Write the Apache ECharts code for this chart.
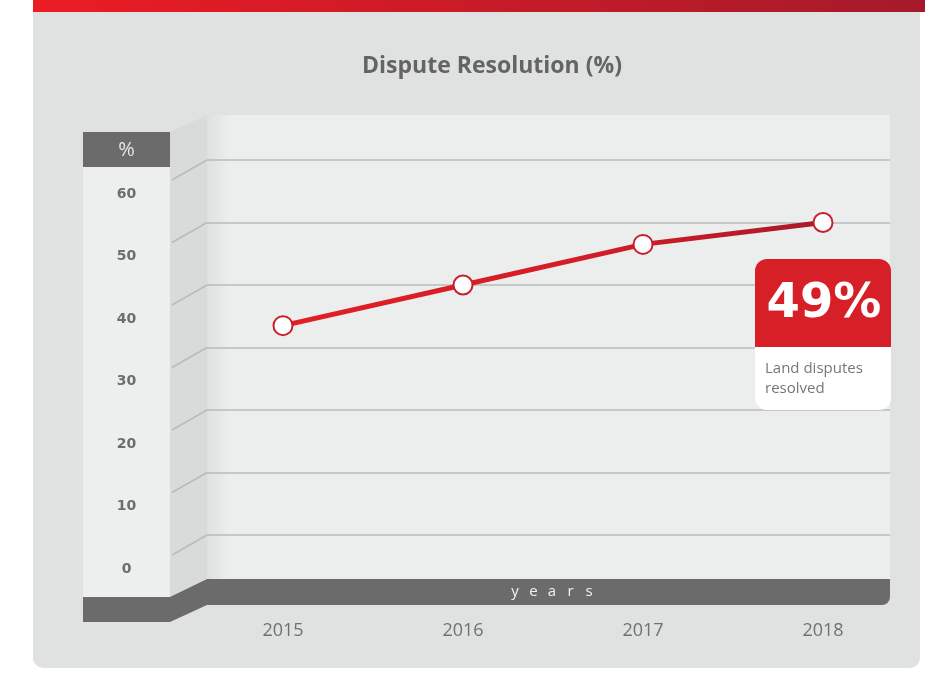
<!DOCTYPE html>
<html>
<head>
<meta charset="utf-8">
<script src="https://cdn.jsdelivr.net/npm/echarts@6/dist/echarts.min.js"></script>
<style>
    html, body { margin: 0; padding: 0; background: #fff; }
    #chart { width: 925px; height: 675px; }
</style>
</head>
<body>
<div id="chart"></div>
<script>
    // data
    const years = ['2015', '2016', '2017', '2018'];
    const resolved = [33.5, 40, 46.5, 50];
    const yMin = 0, yMax = 60, yStep = 10;
    const calloutValue = '49%';
    const calloutLabel = 'Land disputes\nresolved';
    const titleText = 'Dispute Resolution (%)';
    const axisUnit = '%';
    const axisName = 'years';

    const chart = echarts.init(document.getElementById('chart'), null, { renderer: 'canvas' });

    const grey = '#6b6b6b';
    const red = '#d71f27';

    // box geometry
    const wallL = 207, wallR = 890, wallT = 115, wallB = 579;
    const colL = 83, colR = 170, colT = 132, colB = 597;
    const plotTop = 160, plotH = 375;

    function decor(sideLines) {
        let g = [
            // panel + red header strip
            { type: 'rect', shape: { x: 33, y: 0, width: 887, height: 668, r: [0, 0, 10, 10] }, style: { fill: '#e0e2e2' }, z: -20 },
            { type: 'rect', shape: { x: 33, y: 0, width: 892, height: 12 }, z: -19,
              style: { fill: new echarts.graphic.LinearGradient(0, 0, 1, 0, [{ offset: 0, color: '#ec1c24' }, { offset: 1, color: '#a51a2b' }]) } },
            // back wall
            { type: 'rect', shape: { x: wallL, y: wallT, width: wallR - wallL, height: wallB - wallT }, style: { fill: '#eceeee' }, z: -18 },
            { type: 'rect', shape: { x: wallL, y: wallT, width: 22, height: wallB - wallT }, z: -17,
              style: { fill: new echarts.graphic.LinearGradient(0, 0, 1, 0, [{ offset: 0, color: 'rgba(0,0,0,0.06)' }, { offset: 1, color: 'rgba(0,0,0,0)' }]) } },
            // side wall
            { type: 'polygon', shape: { points: [[colR, colT], [wallL, wallT], [wallL, wallB], [colR, colB]] }, style: { fill: '#d9dbdb' }, z: -16 },
            // front column
            { type: 'rect', shape: { x: colL, y: colT, width: colR - colL, height: colB - colT }, style: { fill: '#edefef' }, z: -15 },
            { type: 'rect', shape: { x: colL, y: colT, width: colR - colL, height: 35 }, style: { fill: grey }, z: -14 },
            { type: 'text', x: (colL + colR) / 2, y: colT + 18, z: -13,
              style: { text: axisUnit, fill: '#e6e6e6', font: '20px "Open Sans"', align: 'center', verticalAlign: 'middle' } },
            // floor band
            { type: 'polygon', z: -12, style: { fill: grey },
              shape: { points: [[colL, colB], [colR, colB], [wallL, wallB], [wallR, wallB], [wallR, 597], [wallL, 605], [colR, 622], [colL, 622]] } },
            { type: 'rect', shape: { x: wallL, y: wallB, width: wallR - wallL, height: 26, r: [0, 0, 8, 0] }, style: { fill: grey }, z: -12 }
        ];
        // spaced letters of the axis name
        axisName.split('').forEach(function (ch, i) {
            g.push({ type: 'text', x: 515 + i * 18.5, y: 592, z: -11,
                style: { text: ch, fill: '#f2f2f2', font: '15px "Open Sans"', align: 'center', verticalAlign: 'middle' } });
        });
        sideLines.forEach(function (y) {
            g.push({ type: 'line', shape: { x1: colR + 2, y1: y + 20, x2: wallL, y2: y }, style: { stroke: '#b9bbbb', lineWidth: 1.5 }, z: -10 });
        });
        // callout
        g.push(
            { type: 'rect', shape: { x: 755, y: 259, width: 136, height: 88, r: [12, 12, 0, 0] }, style: { fill: red }, z: 100 },
            { type: 'rect', shape: { x: 755, y: 347, width: 136, height: 63, r: [0, 0, 12, 12] }, style: { fill: '#ffffff' }, z: 100 },
            { type: 'text', x: 824, y: 305, z: 101,
              style: { text: calloutValue, fill: '#fff', font: 'bold 48px "DejaVu Sans"', align: 'center', verticalAlign: 'middle' } },
            { type: 'text', x: 765, y: 379, z: 101,
              style: { text: calloutLabel, fill: '#777', font: '15px "Open Sans"', lineHeight: 20, align: 'left', verticalAlign: 'middle' } }
        );
        return g;
    }

    chart.setOption({
        backgroundColor: '#ffffff',
        animation: false,
        title: {
            text: titleText, left: 487, top: 50, textAlign: 'center',
            textStyle: { color: '#646464', fontSize: 23, fontWeight: 'bold', fontFamily: 'Open Sans' }
        },
        grid: [
            { left: wallL, right: 925 - wallR, top: plotTop, height: plotH },
            { left: 283, width: 540, top: plotTop, height: plotH },
            { left: (colL + colR) / 2, width: 1, top: plotTop + 34, height: plotH }
        ],
        xAxis: [
            { gridIndex: 0, type: 'value', show: false },
            { gridIndex: 1, type: 'category', data: years, boundaryGap: false,
              axisLine: { show: false }, axisTick: { show: false },
              axisLabel: { margin: 87, color: '#707070', fontSize: 18, fontFamily: 'Open Sans' } },
            { gridIndex: 2, type: 'value', show: false }
        ],
        yAxis: [
            { gridIndex: 0, type: 'value', min: yMin, max: yMax, interval: yStep,
              axisLine: { show: false }, axisTick: { show: false }, axisLabel: { show: false },
              splitLine: { lineStyle: { color: '#b9bbbb', width: 1.5 } } },
            { gridIndex: 1, type: 'value', min: yMin, max: yMax, interval: yStep, show: false },
            { gridIndex: 2, type: 'value', min: yMin, max: yMax, interval: yStep,
              axisLine: { show: false }, axisTick: { show: false }, splitLine: { show: false },
              axisLabel: { margin: 0, align: 'center', color: '#6d6d6d', fontSize: 14, fontWeight: 'bold', fontFamily: 'DejaVu Sans' } }
        ],
        series: [{
            type: 'line',
            xAxisIndex: 1, yAxisIndex: 1,
            data: resolved,
            symbol: 'circle', symbolSize: 19,
            lineStyle: {
                width: 5,
                color: new echarts.graphic.LinearGradient(0, 0, 1, 0, [{ offset: 0, color: '#e31e26' }, { offset: 0.6, color: '#d11d27' }, { offset: 1, color: '#a8192a' }])
            },
            itemStyle: { color: '#ffffff', borderColor: '#c8202b', borderWidth: 2 },
            z: 5
        }]
    });

    // side wall lines follow the y axis ticks
    let sideLines = [];
    for (let v = yMin; v <= yMax; v += yStep) {
        sideLines.push(chart.convertToPixel({ yAxisIndex: 0 }, v));
    }
    chart.setOption({ graphic: { elements: decor(sideLines) } });
</script>
</body>
</html>
